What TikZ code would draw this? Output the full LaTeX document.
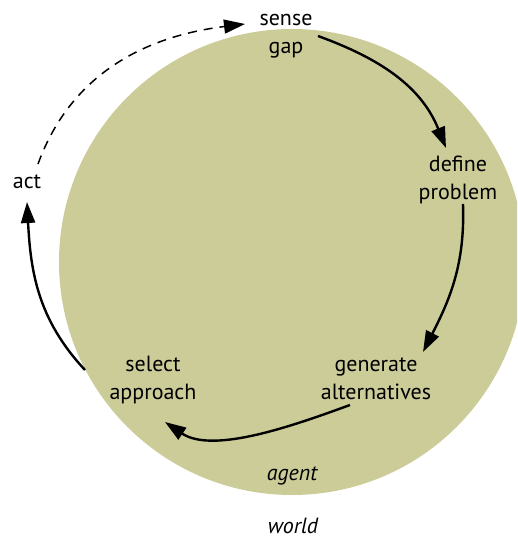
\documentclass[tikz,border=0pt]{standalone}
\usepackage{fontspec}
\setmainfont{PT Sans}
\usetikzlibrary{arrows.meta}
\definecolor{agentfill}{RGB}{204,204,153}
\begin{document}
\begin{tikzpicture}[x=1pt,y=1pt,
  lbl/.style={inner sep=0pt, align=center, font=\fontsize{22}{27.5}\selectfont, text=black},
  ital/.style={inner sep=0pt, font=\fontsize{22}{27.5}\selectfont\itshape, text=black},
  flow/.style={line width=2.4pt, -{Triangle[length=21pt,width=14pt]}},
  acting/.style={line width=1.5pt, dash pattern=on 9pt off 7pt, -{Triangle[length=21pt,width=14pt]}}]
\useasboundingbox (0,0) rectangle (517,-538);
\begin{scope}
  \clip (0,0) rectangle (517,-538);
  \fill[agentfill] (292,-262) circle (233);
\end{scope}
\node[lbl] (sense) at (286,-36) {sense\\gap};
\node[lbl] (define) at (458,-180) {define\\problem};
\node[lbl] (generate) at (376,-379) {generate\\alternatives};
\node[lbl] (select) at (153,-380) {select\\approach};
\node[lbl, anchor=base] (act) at (27,-188) {act};
\node[ital, anchor=base] (agent) at (292,-480) {agent};
\node[ital, anchor=base] (world) at (293,-533) {world};
\draw[flow] ([xshift=32pt]sense.center) to[out=-20,in=112] ([shift={(-12pt,32pt)}]define.center);
\draw[flow] ([shift={(5pt,-24pt)}]define.center) to[out=-88,in=63] ([shift={(47pt,27pt)}]generate.center);
\draw[flow] ([shift={(-26pt,-26pt)}]generate.center) to[out=200,in=-34,looseness=0.8] ([shift={(12pt,-42pt)}]select.center);
\draw[flow] ([shift={(-68pt,10pt)}]select.center) to[out=133,in=-87] ([yshift=-14pt]act.base);
\draw[acting] ([shift={(11pt,24pt)}]act.base) to[out=70,in=187] ([shift={(-41pt,12pt)}]sense.center);
\end{tikzpicture}
\end{document}
